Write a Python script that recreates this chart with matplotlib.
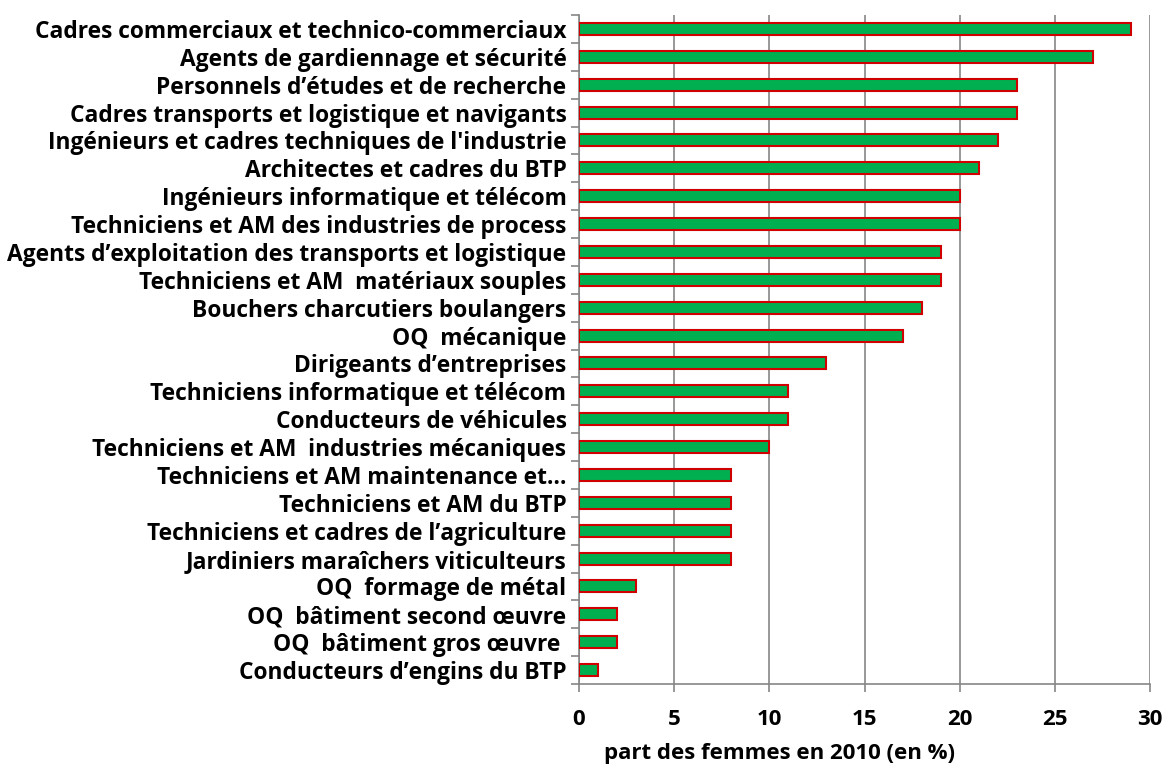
import matplotlib
matplotlib.use("Agg")
import matplotlib.pyplot as plt
import numpy as np

categories = [
    "Cadres commerciaux et technico-commerciaux",
    "Agents de gardiennage et sécurité",
    "Personnels d’études et de recherche",
    "Cadres transports et logistique et navigants",
    "Ingénieurs et cadres techniques de l'industrie",
    "Architectes et cadres du BTP",
    "Ingénieurs informatique et télécom",
    "Techniciens et AM des industries de process",
    "Agents d’exploitation des transports et logistique",
    "Techniciens et AM  matériaux souples",
    "Bouchers charcutiers boulangers",
    "OQ  mécanique",
    "Dirigeants d’entreprises",
    "Techniciens informatique et télécom",
    "Conducteurs de véhicules",
    "Techniciens et AM  industries mécaniques",
    "Techniciens et AM maintenance et…",
    "Techniciens et AM du BTP",
    "Techniciens et cadres de l’agriculture",
    "Jardiniers maraîchers viticulteurs",
    "OQ  formage de métal",
    "OQ  bâtiment second œuvre",
    "OQ  bâtiment gros œuvre ",
    "Conducteurs d’engins du BTP",
]
values = [29, 27, 23, 23, 22, 21, 20, 20, 19, 19, 18, 17, 13, 11, 11, 10, 8, 8, 8, 8, 3, 2, 2, 1]
xticks = [0, 5, 10, 15, 20, 25, 30]
xlabel = "part des femmes en 2010 (en %)"

plt.rcParams['font.family'] = ['Open Sans', 'DejaVu Sans']
plt.rcParams['font.weight'] = 'bold'

fig = plt.figure(figsize=(11.64, 7.71), dpi=100)
ax = fig.add_axes([579/1164, 1 - 684/771, (1150-579)/1164, (684-15)/771])

n = len(categories)
y = np.arange(n)[::-1]
ax.barh(y, values, height=0.43, color='#00B050', edgecolor='#D00000', linewidth=1.5, zorder=3)

ax.set_xlim(0, 30)
ax.set_ylim(-0.5, n - 0.5)
ax.set_xticks(xticks)
ax.set_xticklabels([str(t) for t in xticks], fontsize=16, fontweight='bold')
ax.set_yticks(y)
ax.set_yticklabels(categories, fontsize=16.4, fontweight='bold')
ax.tick_params(axis='y', length=0, pad=9)
ax.set_yticks(np.arange(-0.5, n, 1.0), minor=True)
ax.tick_params(axis='y', which='minor', length=6, color='#868686', width=1.2, direction='out')
ax.tick_params(axis='x', length=6, color='#868686', width=1.2, direction='out', pad=12)

ax.grid(axis='x', color='#868686', linewidth=1.2, zorder=0)
for s in ['top', 'right']:
    ax.spines[s].set_visible(False)
for s in ['left', 'bottom']:
    ax.spines[s].set_color('#868686')
    ax.spines[s].set_linewidth(1.2)

fig.text(780/1164, 1 - 753/771, xlabel, ha='center', va='center', fontsize=16, fontweight='bold')

fig.savefig("out.png", dpi=100)
